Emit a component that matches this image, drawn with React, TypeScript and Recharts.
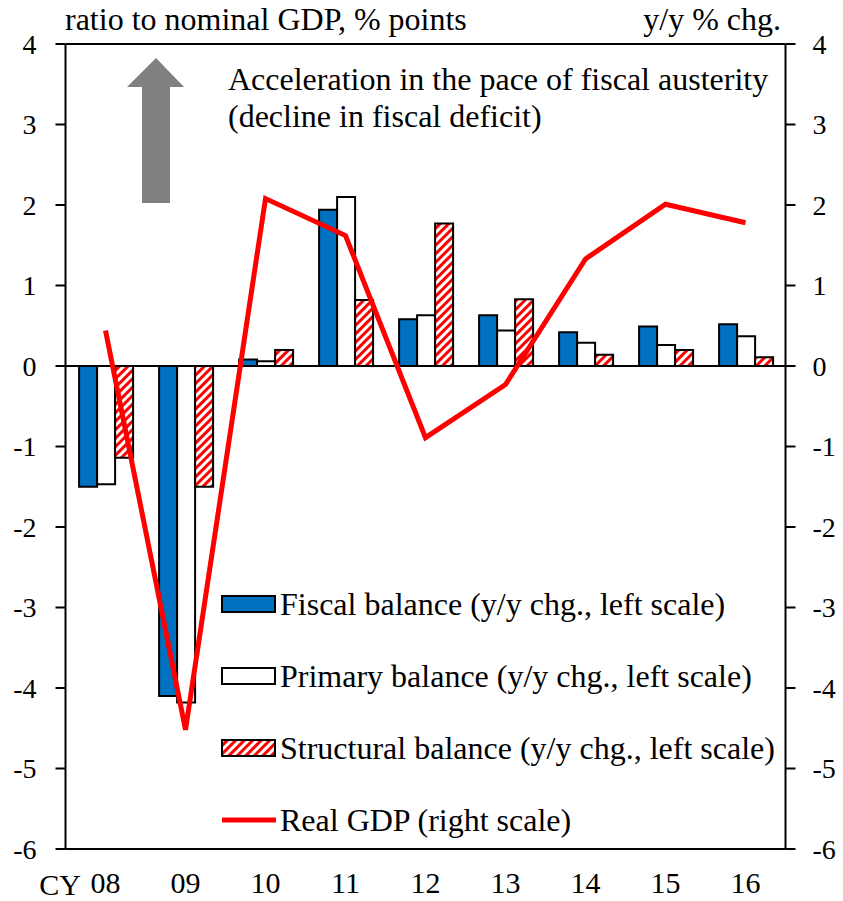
import {
  ComposedChart,
  Bar,
  Line,
  XAxis,
  YAxis,
  ReferenceLine,
} from 'recharts';

// calendar years
const years = ['08', '09', '10', '11', '12', '13', '14', '15', '16'];

// y/y change, ratio to nominal GDP (% points) -- left scale
const fiscalBalance = [-1.5, -4.1, 0.08, 1.94, 0.58, 0.63, 0.42, 0.49, 0.52];
const primaryBalance = [-1.47, -4.18, 0.06, 2.1, 0.63, 0.44, 0.29, 0.26, 0.37];
const structuralBalance = [-1.14, -1.5, 0.2, 0.82, 1.77, 0.83, 0.14, 0.2, 0.11];

// real GDP, y/y % chg. -- right scale
const realGdp = [0.44, -4.52, 2.08, 1.62, -0.89, -0.23, 1.33, 2.01, 1.78];

const yTicks = [-6, -5, -4, -3, -2, -1, 0, 1, 2, 3, 4];

const data = years.map((year, i) => ({
  year,
  fiscal: fiscalBalance[i],
  primary: primaryBalance[i],
  structural: structuralBalance[i],
  gdp: realGdp[i],
}));

const FONT = '"Liberation Serif", "Times New Roman", serif';
const BLUE = '#0070C0';
const RED = '#FF0000';

const tickStyle = { fill: '#000', fontSize: 28, fontFamily: FONT };

const legendItems = [
  { label: 'Fiscal balance (y/y chg., left scale)', kind: 'blue' },
  { label: 'Primary balance (y/y chg., left scale)', kind: 'white' },
  { label: 'Structural balance (y/y chg., left scale)', kind: 'hatch' },
  { label: 'Real GDP (right scale)', kind: 'line' },
];

function LegendBox() {
  return (
    <div
      style={{
        position: 'absolute',
        left: 220,
        top: 568,
        fontFamily: FONT,
        fontSize: 32,
        color: '#000',
      }}
    >
      {legendItems.map((item) => (
        <div
          key={item.label}
          style={{ display: 'flex', alignItems: 'center', height: 72, whiteSpace: 'nowrap' }}
        >
          <svg width={58} height={22} style={{ marginRight: 2 }}>
            <defs>
              <pattern
                id="hatchLegend"
                width="6"
                height="6"
                patternUnits="userSpaceOnUse"
                patternTransform="rotate(45)"
              >
                <rect width="6" height="6" fill="#fff" />
                <rect width="3" height="6" fill={RED} />
              </pattern>
            </defs>
            {item.kind === 'line' ? (
              <line x1={2} y1={11} x2={56} y2={11} stroke={RED} strokeWidth={5} />
            ) : (
              <rect
                x={2}
                y={3}
                width={53}
                height={16}
                fill={
                  item.kind === 'blue' ? BLUE : item.kind === 'white' ? '#fff' : 'url(#hatchLegend)'
                }
                stroke="#000"
                strokeWidth={2}
              />
            )}
          </svg>
          <span>{item.label}</span>
        </div>
      ))}
    </div>
  );
}

export default function App() {
  return (
    <div
      style={{
        position: 'absolute',
        left: 0,
        top: 0,
        width: 843,
        height: 901,
        background: '#fff',
        fontFamily: FONT,
      }}
    >
      <ComposedChart
        width={843}
        height={901}
        data={data}
        margin={{ top: 44, right: 0, bottom: 0, left: 0 }}
        barCategoryGap="17%"
        barGap={0}
      >
        <defs>
          <pattern
            id="hatch"
            width="6"
            height="6"
            patternUnits="userSpaceOnUse"
            patternTransform="rotate(45)"
          >
            <rect width="6" height="6" fill="#fff" />
            <rect width="3" height="6" fill={RED} />
          </pattern>
        </defs>
        <XAxis
          dataKey="year"
          height={52}
          axisLine={{ stroke: '#000', strokeWidth: 2 }}
          tickLine={false}
          tickSize={0}
          tickMargin={23}
          tick={{ ...tickStyle, fontSize: 30 }}
          interval={0}
        />
        <YAxis
          yAxisId="left"
          width={65.5}
          domain={[-6, 4]}
          ticks={yTicks}
          allowDataOverflow
          axisLine={{ stroke: '#000', strokeWidth: 2 }}
          tickLine={{ stroke: '#000', strokeWidth: 2 }}
          tickSize={10}
          tickMargin={19}
          tick={tickStyle}
        />
        <YAxis
          yAxisId="right"
          orientation="right"
          width={57.5}
          domain={[-6, 4]}
          ticks={yTicks}
          allowDataOverflow
          axisLine={{ stroke: '#000', strokeWidth: 2 }}
          tickLine={{ stroke: '#000', strokeWidth: 2 }}
          tickSize={10}
          tickMargin={17}
          tick={{ ...tickStyle, textAnchor: 'start' }}
        />
        <ReferenceLine yAxisId="left" y={4} stroke="#000" strokeWidth={2} />
        <Bar
          yAxisId="left"
          dataKey="fiscal"
          name="Fiscal balance (y/y chg., left scale)"
          fill={BLUE}
          stroke="#000"
          strokeWidth={2}
          isAnimationActive={false}
        />
        <Bar
          yAxisId="left"
          dataKey="primary"
          name="Primary balance (y/y chg., left scale)"
          fill="#fff"
          stroke="#000"
          strokeWidth={2}
          isAnimationActive={false}
        />
        <Bar
          yAxisId="left"
          dataKey="structural"
          name="Structural balance (y/y chg., left scale)"
          fill="url(#hatch)"
          stroke="#000"
          strokeWidth={2}
          isAnimationActive={false}
        />
        <ReferenceLine yAxisId="left" y={0} stroke="#000" strokeWidth={2} />
        <Line
          yAxisId="right"
          dataKey="gdp"
          name="Real GDP (right scale)"
          stroke={RED}
          strokeWidth={5}
          dot={false}
          activeDot={false}
          isAnimationActive={false}
        />
      </ComposedChart>

      <LegendBox />

      {/* annotations: axis titles, arrow, note */}
      <svg
        width={843}
        height={901}
        style={{ position: 'absolute', left: 0, top: 0, pointerEvents: 'none' }}
      >
        <g fontFamily={FONT} fontSize={32} fill="#000">
          <text x={65} y={30}>ratio to nominal GDP, % points</text>
          <text x={781} y={30} textAnchor="end">y/y % chg.</text>
          <text x={228} y={90}>Acceleration in the pace of fiscal austerity</text>
          <text x={228} y={127}>(decline in fiscal deficit)</text>
          <text x={81} y={895} textAnchor="end" fontSize={30}>CY</text>
        </g>
        <polygon
          points="156,58 184,87 170,87 170,203 142,203 142,87 127,87"
          fill="#808080"
        />
      </svg>
    </div>
  );
}
